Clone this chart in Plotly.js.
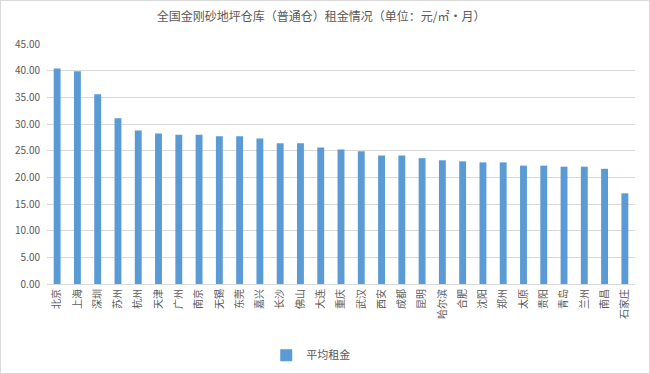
<!DOCTYPE html>
<html><head><meta charset="utf-8">
<script src="https://cdn.plot.ly/plotly-3.0.1.min.js"></script>
<style>html,body{margin:0;padding:0;background:#fff}#c{width:650px;height:374px;box-sizing:border-box;border:1px solid #D9D9D9}</style>
</head><body><div id="c"></div>
<script>
const cities = ['北京','上海','深圳','苏州','杭州','天津','广州','南京','无锡','东莞','嘉兴','长沙','佛山','大连','重庆','武汉','西安','成都','昆明','哈尔滨','合肥','沈阳','郑州','太原','贵阳','青岛','兰州','南昌','石家庄'];
const rent = [40.4,39.9,35.6,31.1,28.8,28.2,28.0,28.0,27.7,27.7,27.3,26.4,26.4,25.6,25.2,24.9,24.1,24.1,23.6,23.2,23.0,22.8,22.8,22.2,22.2,22.0,22.0,21.6,17.0];
const seriesName = '平均租金';
const titleText = '全国金刚砂地坪仓库（普通仓）租金情况（单位：元/㎡·月）';
const FONT = '"Noto Sans CJK SC", "Microsoft YaHei", sans-serif';
Plotly.newPlot('c', [{
  type:'bar', x:cities, y:rent, name:seriesName,
  marker:{color:'#5B9BD5'}, showlegend:true, hoverinfo:'x+y'
}], {
  width:648, height:372,
  margin:{l:46, r:14, t:43, b:89, pad:0, autoexpand:false},
  paper_bgcolor:'#fff', plot_bgcolor:'#fff',
  font:{family:FONT, color:'#595959', size:10},
  title:{text:titleText, x:0.494, xanchor:'center', y:0.957, yanchor:'middle', font:{family:FONT, size:12, color:'#595959'}},
  bargap:0.66,
  xaxis:{type:'category', automargin:false, tickangle:-90, showgrid:false, showline:true, linecolor:'#D9D9D9', linewidth:1, ticks:'', tickfont:{size:10, family:FONT, color:'#595959'}},
  yaxis:{range:[0,45], automargin:false, dtick:5, tickformat:'.2f', showgrid:true, gridcolor:'#D9D9D9', gridwidth:1, zeroline:false, showline:false, ticks:'', ticklabelstandoff:6, tickfont:{size:10, family:FONT, color:'#595959'}},
  legend:{orientation:'h', xref:'container', yref:'container', x:0.478, xanchor:'center', y:0.048, yanchor:'middle', font:{size:11, family:FONT, color:'#595959'}}
}, {displayModeBar:false, staticPlot:true});
</script></body></html>
